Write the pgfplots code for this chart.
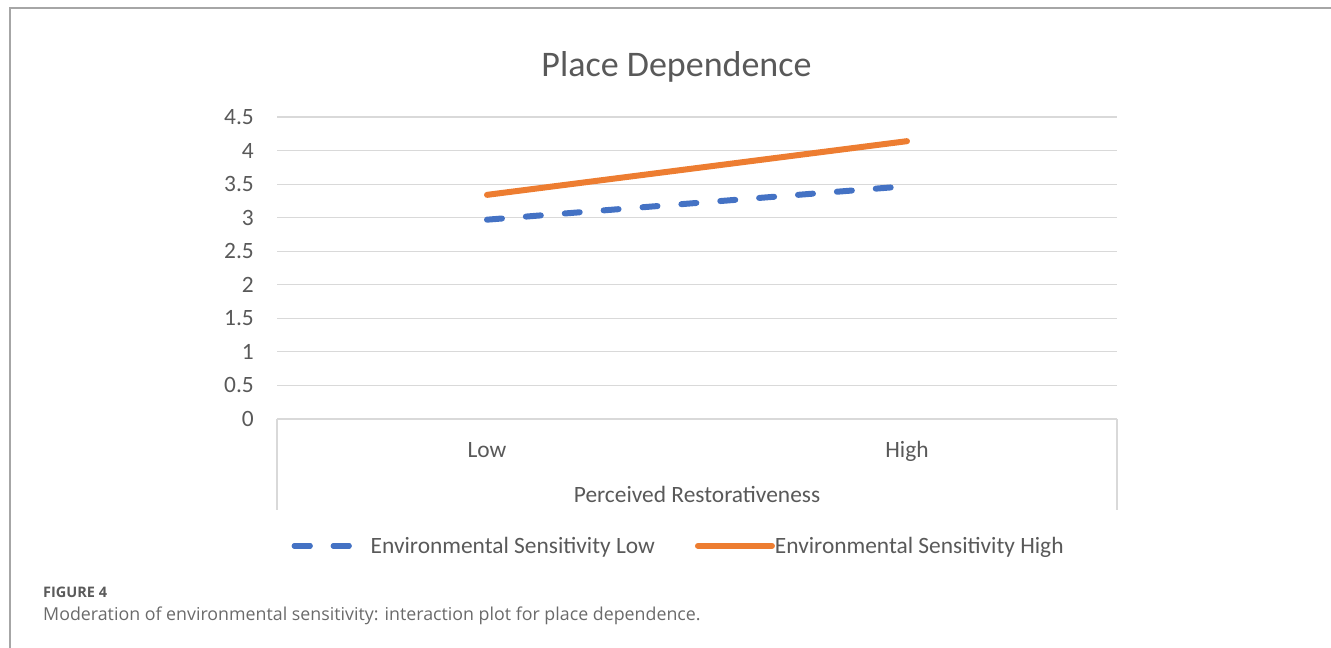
\documentclass[border=0pt]{standalone}
\usepackage{fontspec}
\setmainfont{Carlito}
\newfontfamily\capfont{Open Sans}
\usepackage{pgfplots}
\pgfplotsset{compat=1.18}
\definecolor{esblue}{HTML}{4472C4}
\definecolor{esorange}{HTML}{ED7D31}
\definecolor{txtgray}{HTML}{595959}
\definecolor{gridgray}{HTML}{D9D9D9}
\definecolor{framegray}{HTML}{A6A6A6}
\definecolor{capgray}{HTML}{6A6A6A}
\pgfplotsset{
  lowleg/.style={legend image code/.code={\draw[##1] (0pt,0pt) -- (58pt,0pt); \path (0pt,0pt) -- (73pt,0pt);}},
  highleg/.style={legend image code/.code={\draw[##1, line cap=butt] (0pt,0pt) -- (70pt,0pt); \path (0pt,0pt) -- (74pt,0pt);}},
}
\begin{document}
\begin{tikzpicture}
\useasboundingbox (0,0) rectangle (1331pt,-648pt);
\draw[framegray, line width=1.2pt] (10pt,-648pt) -- (10pt,-8pt) -- (1331pt,-8pt);
\begin{axis}[
  at={(277pt,-419pt)}, anchor=south west,
  scale only axis, width=840pt, height=302pt,
  xmin=-0.5, xmax=1.5, ymin=0, ymax=4.5,
  xtick={0,1}, xticklabels={Low,High},
  ytick={0,0.5,1,1.5,2,2.5,3,3.5,4,4.5},
  yticklabels={0,0.5,1,1.5,2,2.5,3,3.5,4,4.5},
  ymajorgrids, grid style={gridgray, line width=1.2pt},
  axis line style={draw=none}, tick style={draw=none},
  major tick length=0pt,
  ticklabel style={font=\fontsize{23.4}{28}\selectfont, text=txtgray},
  yticklabel style={anchor=east, inner sep=0pt, xshift=-23pt},
  xticklabel style={anchor=base, inner sep=0pt, yshift=-38pt},
  xlabel={Perceived Restorativeness},
  xlabel style={at={(rel axis cs:0.5,0)}, anchor=base, inner sep=0pt, yshift=-83pt, font=\fontsize{23.4}{28}\selectfont, text=txtgray},
  title={Place Dependence},
  title style={at={(rel axis cs:0.4756,1)}, anchor=base, inner sep=0pt, yshift=35pt, font=\fontsize{36}{43}\selectfont, text=txtgray},
  legend columns=2,
  legend style={at={(rel axis cs:0.477,-0.42)}, anchor=center, draw=none, fill=none,
    font=\fontsize{23.4}{28}\selectfont, text=txtgray, nodes={inner sep=0pt},
    /tikz/every even column/.append style={column sep=40pt}},
  clip=false,
]
\draw[gridgray, line width=1.2pt] (rel axis cs:0,0) -- ++(0pt,-91pt);
\draw[gridgray, line width=1.2pt] (rel axis cs:1,0) -- ++(0pt,-91pt);
\addplot[esblue, line width=6pt, line cap=round, dash pattern=on 15pt off 24pt, lowleg]
  coordinates {(0,2.97) (1,3.47)};
\addlegendentry{Environmental Sensitivity Low}
\addplot[esorange, line width=6pt, line cap=round, highleg]
  coordinates {(0,3.34) (1,4.14)};
\addlegendentry{Environmental Sensitivity High}
\end{axis}
\node[anchor=base west, inner sep=0pt, font=\capfont\bfseries\fontsize{14.5}{17}\selectfont, text=capgray!85!black] at (43pt,-597pt) {FIGURE 4};
\node[anchor=base west, inner sep=0pt, font=\capfont\fontsize{17.8}{21}\selectfont, text=capgray] at (43pt,-620pt) {Moderation of environmental sensitivity: interaction plot for place dependence.};
\end{tikzpicture}
\end{document}
